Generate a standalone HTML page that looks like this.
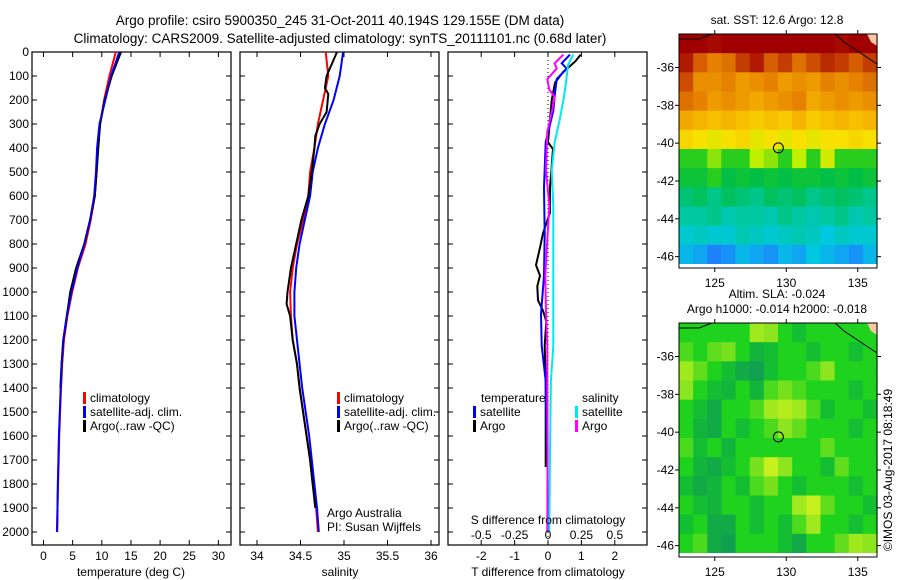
<!DOCTYPE html>
<html><head><meta charset="utf-8"><style>
html,body{margin:0;padding:0;background:#fff;}
svg{display:block;font-family:"Liberation Sans",sans-serif;}
</style></head><body>
<svg id="fig" width="900" height="580" viewBox="0 0 900 580" xmlns="http://www.w3.org/2000/svg">
<text x="340" y="25" font-size="13.5" text-anchor="middle">Argo profile: csiro 5900350_245 31-Oct-2011 40.194S 129.155E (DM data)</text>
<text x="340" y="43" font-size="13.5" text-anchor="middle">Climatology: CARS2009. Satellite-adjusted climatology: synTS_20111101.nc (0.68d later)</text>
<g id="p1"></g>
<g id="p2"></g>
<g id="p3"></g>
<g id="m1"></g>
<g id="m2"></g>
<text x="0" y="0" font-size="12" text-anchor="middle" transform="translate(892,470) rotate(-90)">©IMOS 03-Aug-2017 08:18:49</text>
</svg>
<script>
// ---------- data ----------
const depths = [0,100,200,300,400,500,600,700,800,900,1000,1100,1200,1300,1400,1500,1600,1700,1800,1900,2000];
const tempClim = [12.4,11.3,10.4,9.7,9.3,9.1,8.8,8.1,7.2,5.9,4.9,4.1,3.5,3.2,3.0,2.85,2.7,2.6,2.5,2.4,2.3];
const tempSat  = [13.0,11.6,10.6,9.6,9.2,9.0,8.7,8.0,7.0,5.8,4.8,4.0,3.4,3.1,2.95,2.8,2.65,2.55,2.45,2.4,2.35];
const tempArgo = [13.3,11.7,10.5,9.7,9.4,9.1,8.8,8.0,7.0,5.6,4.6,4.0,3.4,3.1,2.9];
const salClim = [34.79,34.82,34.76,34.70,34.66,34.61,34.59,34.53,34.46,34.41,34.38,34.39,34.41,34.46,34.49,34.53,34.57,34.61,34.64,34.68,34.70];
const salSat  = [34.99,34.95,34.88,34.78,34.70,34.64,34.61,34.55,34.49,34.45,34.43,34.43,34.46,34.49,34.52,34.56,34.60,34.63,34.66,34.69,34.71];
const salArgoDepths = [0,50,100,150,175,250,300,350,400,500,600,700,800,900,1000,1050,1100,1200,1300,1400,1500,1600,1700,1800,1900];
const salArgo = [34.92,34.86,34.80,34.78,34.82,34.80,34.72,34.67,34.66,34.63,34.59,34.51,34.45,34.39,34.35,34.34,34.38,34.41,34.46,34.49,34.53,34.57,34.61,34.64,34.67];
const tdArgoDepths = [11,40,84,128,201,376,405,566,669,756,815,888,932,976,1034,1078,1122,1224,1370,1729];
const tdArgo = [0.98,0.81,0.45,0.21,0.11,0.0,0.15,0.06,0.06,-0.15,-0.24,-0.36,-0.24,-0.32,-0.30,-0.15,-0.05,-0.1,-0.07,-0.07];
const tdSatDepths = [11,47,69,113,171,245,376,566,756,932,1093,1224,1370,1663,1999];
const tdSat = [0.66,0.41,0.56,0.26,0.21,0.16,-0.07,-0.12,-0.1,-0.12,-0.21,-0.19,-0.07,-0.02,0.01];
const sdSatDepths = [11,54,128,201,288,376,493,639,932,1224,1370,1663,1999];
const sdSat = [0.19,0.15,0.135,0.115,0.085,0.05,0.028,0.04,0.04,0.04,0.022,0.015,0.01];
const sdArgoDepths = [11,47,69,113,157,186,245,332,493,639,932,1078,1224,1370,1663,1999];
const sdArgo = [0.115,0.05,0.065,-0.005,0.01,0.05,0.03,-0.005,-0.015,0.01,-0.02,-0.015,-0.005,-0.005,-0.003,-0.005];
const depthTicks = [0,100,200,300,400,500,600,700,800,900,1000,1100,1200,1300,1400,1500,1600,1700,1800,1900,2000];
const tempTicks = [0,5,10,15,20,25,30];
const salTicks = [34,34.5,35,35.5,36];
const salTickLabels = ["34","34.5","35","35.5","36"];
const tdTicks = [-2,-1,0,1,2];
const sdTicks = [-0.5,-0.25,0,0.25,0.5];
const sdTickLabels = ["-0.5","-0.25","0","0.25","0.5"];
const latTicks = [-36,-38,-40,-42,-44,-46];
const lonTicks = [125,130,135];
const sstGrid = [
[16.4,16.4,16.2,16.4,16.4,16.4,16.3,16.4,16.4,16.4,16.4,16.2,16.4,16.4],
[16.0,15.2,14.8,15.0,15.6,16.0,15.2,15.6,15.0,15.4,15.8,15.6,15.2,15.6],
[15.4,14.6,14.6,14.8,14.4,14.6,14.8,14.4,14.6,14.4,14.8,14.6,14.8,15.0],
[15.0,14.8,14.4,14.6,14.4,14.2,14.4,14.6,14.8,14.2,14.4,14.6,14.4,14.6],
[14.2,14.0,13.8,14.0,13.8,13.6,13.8,13.6,14.0,13.6,13.8,14.0,13.8,14.0],
[13.4,13.2,13.0,13.2,13.4,13.0,13.2,13.0,13.2,13.0,13.2,13.2,13.4,13.2],
[12.0,12.0,12.4,12.0,12.0,12.6,12.4,12.0,12.6,12.0,12.8,12.0,12.0,12.0],
[11.6,11.6,12.0,11.4,11.6,11.4,11.6,11.4,11.6,11.6,11.4,11.6,11.4,11.6],
[11.0,11.2,10.8,11.2,11.0,10.8,11.2,11.0,11.2,10.8,11.0,11.2,11.0,10.8],
[10.6,10.6,10.8,10.4,10.6,10.6,10.4,10.8,10.6,10.4,10.6,10.8,10.4,10.6],
[10.0,10.2,10.0,10.0,10.4,10.2,10.0,10.2,10.4,10.2,9.8,10.2,10.0,10.0],
[9.6,9.4,9.0,9.2,9.6,9.4,9.2,9.6,9.4,9.8,9.6,9.4,9.2,9.6]];
const slaGrid = [
[0,0,0,0,0,0.06,0.05,0,-0.02,0,0,0,0,0],
[0.02,0,0.03,0.04,0,-0.03,-0.02,0,0,-0.02,0,0,-0.02,0],
[0.06,0.03,0,-0.02,-0.04,-0.05,-0.02,0,0,0.02,0.05,0,0,0],
[0.05,0,-0.02,-0.03,0,-0.03,0.02,0.04,0.02,0,0,0,-0.02,0],
[0,-0.02,-0.04,0,0,0.02,0.06,0.07,0.06,0.02,-0.02,0,0,-0.02],
[0,-0.03,-0.04,0,-0.02,0,0.02,0.05,0.03,0,0,0,-0.02,0],
[0.02,-0.02,0,-0.03,0,0,0,0,0,0,0.03,0,0,0],
[0,-0.03,-0.04,-0.02,0,0.04,0.08,0.05,0,0,-0.02,0.03,0,0],
[-0.02,-0.04,-0.03,0,-0.02,0.02,0.04,0,-0.02,0,0,0,-0.02,0],
[0,-0.02,-0.03,0,0,-0.02,0,0,0.06,0.08,0.03,0,0,-0.02],
[-0.02,0,-0.04,-0.04,0,-0.02,0,-0.02,0.02,0.06,0,0,-0.02,0],
[0,0.02,-0.04,-0.05,0,0,0,-0.02,-0.04,0,0,0.03,0.06,0.05]];
const argoLon = 129.45, argoLat = -40.25;

// ---------- helpers ----------
const NS="http://www.w3.org/2000/svg";
function mk(tag, attrs, parent){const e=document.createElementNS(NS,tag);for(const k in attrs)e.setAttribute(k,attrs[k]);parent.appendChild(e);return e;}
const top0=52, pxPer100=24, panelBottom=545;
const yD = d => top0 + d*pxPer100/100;
function frame(g,x0,x1){
  const r=mk('rect',{x:x0,y:top0,width:x1-x0,height:panelBottom-top0,fill:'none',stroke:'#000','stroke-width':1.2},g);
  
  
}
function line(g,xs,ds,xf,color,name,w){
  const pts=xs.map((v,i)=>xf(v).toFixed(1)+','+yD(ds[i]).toFixed(1)).join(' ');
  const p=mk('polyline',{points:pts,fill:'none',stroke:color,'stroke-width':w||2,'stroke-linejoin':'miter'},g);
  
  
}
function txt(g,x,y,s,anchor,size,name){
  const t=mk('text',{x:x,y:y,'font-size':size||12,'text-anchor':anchor||'start'},g);
  t.textContent=s;
  
  
  return t;
}
function xticks(g,vals,labels,xf,labelY,name){
  vals.forEach((v,i)=>{
    const x=xf(v);
    mk('line',{x1:x,y1:top0,x2:x,y2:top0+5,stroke:'#000'},g);
    mk('line',{x1:x,y1:panelBottom,x2:x,y2:panelBottom-5,stroke:'#000'},g);
    if(labelY) txt(g,x,labelY,labels[i],'middle',12,name);
  });
}
function yticks(g,x0,x1,withLabels){
  depthTicks.forEach(d=>{
    const y=yD(d);
    mk('line',{x1:x0,y1:y,x2:x0+5,y2:y,stroke:'#000'},g);
    mk('line',{x1:x1,y1:y,x2:x1-5,y2:y,stroke:'#000'},g);
    if(withLabels) txt(g,x0-3,y+4,String(d),'end',12,'depth-tick-label');
  });
}
function legend(g,x,y,color,label){
  const r=mk('rect',{x:x,y:y-10,width:3,height:12,fill:color},g);
  
  
  txt(g,x+7,y,label,'start',12,'legend-entry');
}

// ---------- panel 1: temperature ----------
(function(){
  const g=document.getElementById('p1');
  const x0=32,x1=231; const xT=v=>43.5+v*5.83;
  frame(g,x0,x1); yticks(g,x0,x1,true);
  xticks(g,tempTicks,tempTicks.map(String),xT,560,'temp-tick-label');
  line(g,tempClim,depths,xT,'#ff0000','temp-climatology-line');
  line(g,tempSat,depths,xT,'#0000ff','temp-satellite-line');
  line(g,tempArgo,depths.slice(0,tempArgo.length),xT,'#000','temp-argo-line');
  line(g,tempSat,depths,xT,'#0000ff','temp-satellite-line-top',1.5);
  txt(g,131,576,'temperature (deg C)','middle',12,'x-axis-title-temperature');
  legend(g,83,402,'#ff0000','climatology');
  legend(g,83,416,'#0000ff','satellite-adj. clim.');
  legend(g,83,430,'#000','Argo(..raw -QC)');
})();

// ---------- panel 2: salinity ----------
(function(){
  const g=document.getElementById('p2');
  const x0=240,x1=439; const xS=v=>257+(v-34)*87;
  frame(g,x0,x1); yticks(g,x0,x1,false);
  xticks(g,salTicks,salTickLabels,xS,560,'salinity-tick-label');
  line(g,salClim,depths,xS,'#ff0000','sal-climatology-line');
  line(g,salSat,depths,xS,'#0000ff','sal-satellite-line');
  line(g,salArgo,salArgoDepths,xS,'#000','sal-argo-line');
  txt(g,340,576,'salinity','middle',12,'x-axis-title-salinity');
  legend(g,337,402,'#ff0000','climatology');
  legend(g,337,416,'#0000ff','satellite-adj. clim.');
  legend(g,337,430,'#000','Argo(..raw -QC)');
  txt(g,327,517,'Argo Australia','start',12,'credit-argo-australia');
  txt(g,327,531,'PI: Susan Wijffels','start',12,'credit-pi');
})();

// ---------- panel 3: differences ----------
(function(){
  const g=document.getElementById('p3');
  const x0=448,x1=647; const xTd=v=>548+v*33.4; const xSd=v=>548+v*4*33.4;
  frame(g,x0,x1); yticks(g,x0,x1,false);
  xticks(g,tdTicks,tdTicks.map(String),xTd,560,'tdiff-tick-label');
  const z=mk('line',{x1:548,y1:top0,x2:548,y2:panelBottom,stroke:'#000','stroke-dasharray':'1,3'},g);
  
  
  line(g,tdArgo,tdArgoDepths,xTd,'#000','tdiff-argo-line');
  line(g,tdSat,tdSatDepths,xTd,'#0000ff','tdiff-satellite-line');
  line(g,sdSat,sdSatDepths,xSd,'#00e8f0','sdiff-satellite-line');
  line(g,sdArgo,sdArgoDepths,xSd,'#ff00ff','sdiff-argo-line');
  sdTicks.forEach((v,i)=>txt(g,xSd(v),539,sdTickLabels[i],'middle',12,'sdiff-tick-label'));
  txt(g,548,524,'S difference from climatology','middle',12,'s-diff-axis-title');
  txt(g,548,576,'T difference from climatology','middle',12,'x-axis-title-tdiff');
  txt(g,481,402,'temperature','start',12,'legend-title-temperature');
  txt(g,582,402,'salinity','start',12,'legend-title-salinity');
  legend(g,473,416,'#0000ff','satellite');
  legend(g,473,430,'#000','Argo');
  legend(g,575,416,'#00e8f0','satellite');
  legend(g,575,430,'#ff00ff','Argo');
})();

// ---------- maps ----------
function rgb(c){return 'rgb('+c.map(Math.round).join(',')+')';}
function lerpColor(stops,v){
  if(v<=stops[0][0]) return rgb(stops[0][1]);
  for(let i=1;i<stops.length;i++){
    if(v<=stops[i][0]){
      const a=stops[i-1],b=stops[i],t=(v-a[0])/(b[0]-a[0]);
      return rgb([0,1,2].map(k=>a[1][k]+(b[1][k]-a[1][k])*t));
    }
  }
  return rgb(stops[stops.length-1][1]);
}
const sstStops=[[9.0,[30,130,255]],[9.8,[0,200,225]],[10.6,[0,200,160]],[11.4,[0,190,70]],[12.0,[40,205,30]],[12.6,[190,240,0]],[13.2,[248,225,0]],[14.0,[245,180,0]],[14.8,[230,130,0]],[15.6,[195,60,0]],[16.3,[160,0,0]]];
const slaStops=[[-0.06,[16,150,90]],[-0.02,[20,190,50]],[0,[30,210,30]],[0.04,[120,225,30]],[0.08,[200,240,30]]];
function drawMap(gid,y0,y1,grid,stops,title1,title2){
  const g=document.getElementById(gid);
  const x0=679,x1=877;
  const lonX=lon=>679+(lon-122.5)*14.3;
  const latY=lat=>y0+(-34.23-lat)*((y1-y0-7)/12.0);
  const rows=grid.length, cols=grid[0].length;
  const cw=(x1-x0)/cols, ch=(y1-y0-4)/rows;
  grid.forEach((row,r)=>row.forEach((v,c)=>{
    const cell=mk('rect',{x:(x0+c*cw).toFixed(2),y:(y0+r*ch).toFixed(2),width:(cw+0.6).toFixed(2),height:(ch+0.6).toFixed(2),fill:lerpColor(stops,v)},g);
    
    
  }));
  const land=mk('path',{d:`M${x1-10},${y0} L${x1},${y0} L${x1},${y0+12} L${x1-6},${y0+8} Z`,fill:'#f8c8a0'},g);
  
  
  const coast=mk('polyline',{points:`${x0},${y0+5} ${x0+20},${y0+5} ${x0+33},${y0}`,fill:'none',stroke:'#000','stroke-width':1},g);
  
  
  const coast2=mk('polyline',{points:`${x0+156},${y0} ${x0+165},${y0+8} ${x0+180},${y0+18} ${x0+198},${y0+30}`,fill:'none',stroke:'#000','stroke-width':1},g);
  
  
  mk('rect',{x:x0,y:y1-4,width:x1-x0,height:4,fill:'#fff'},g);
  const fr=mk('rect',{x:x0,y:y0,width:x1-x0,height:y1-y0,fill:'none',stroke:'#000','stroke-width':1},g);
  
  
  latTicks.forEach(l=>{const y=latY(l);
    mk('line',{x1:x0-4,y1:y,x2:x0,y2:y,stroke:'#000'},g);
    mk('line',{x1:x1,y1:y,x2:x1+4,y2:y,stroke:'#000'},g);
    txt(g,x0-5,y+4,String(l),'end',12,'lat-tick-label');});
  lonTicks.forEach(l=>{const x=lonX(l);
    mk('line',{x1:x,y1:y0-4,x2:x,y2:y0,stroke:'#000'},g);
    mk('line',{x1:x,y1:y1,x2:x,y2:y1+4,stroke:'#000'},g);
    txt(g,x,y1+19,String(l),'middle',12,'lon-tick-label');});
  const c=mk('circle',{cx:lonX(argoLon),cy:latY(argoLat),r:5,fill:'none',stroke:'#000','stroke-width':1},g);
  
  
  if(title2){txt(g,777,y0-25,title1,'middle',12,'map-title');txt(g,777,y0-10,title2,'middle',12,'map-subtitle');}
  else txt(g,777,y0-10,title1,'middle',12,'map-title');
}
drawMap('m1',34,268,sstGrid,sstStops,'sat. SST: 12.6  Argo: 12.8');
drawMap('m2',323,557,slaGrid,slaStops,'Altim. SLA: -0.024','Argo h1000: -0.014 h2000: -0.018');
</script>
</body></html>
